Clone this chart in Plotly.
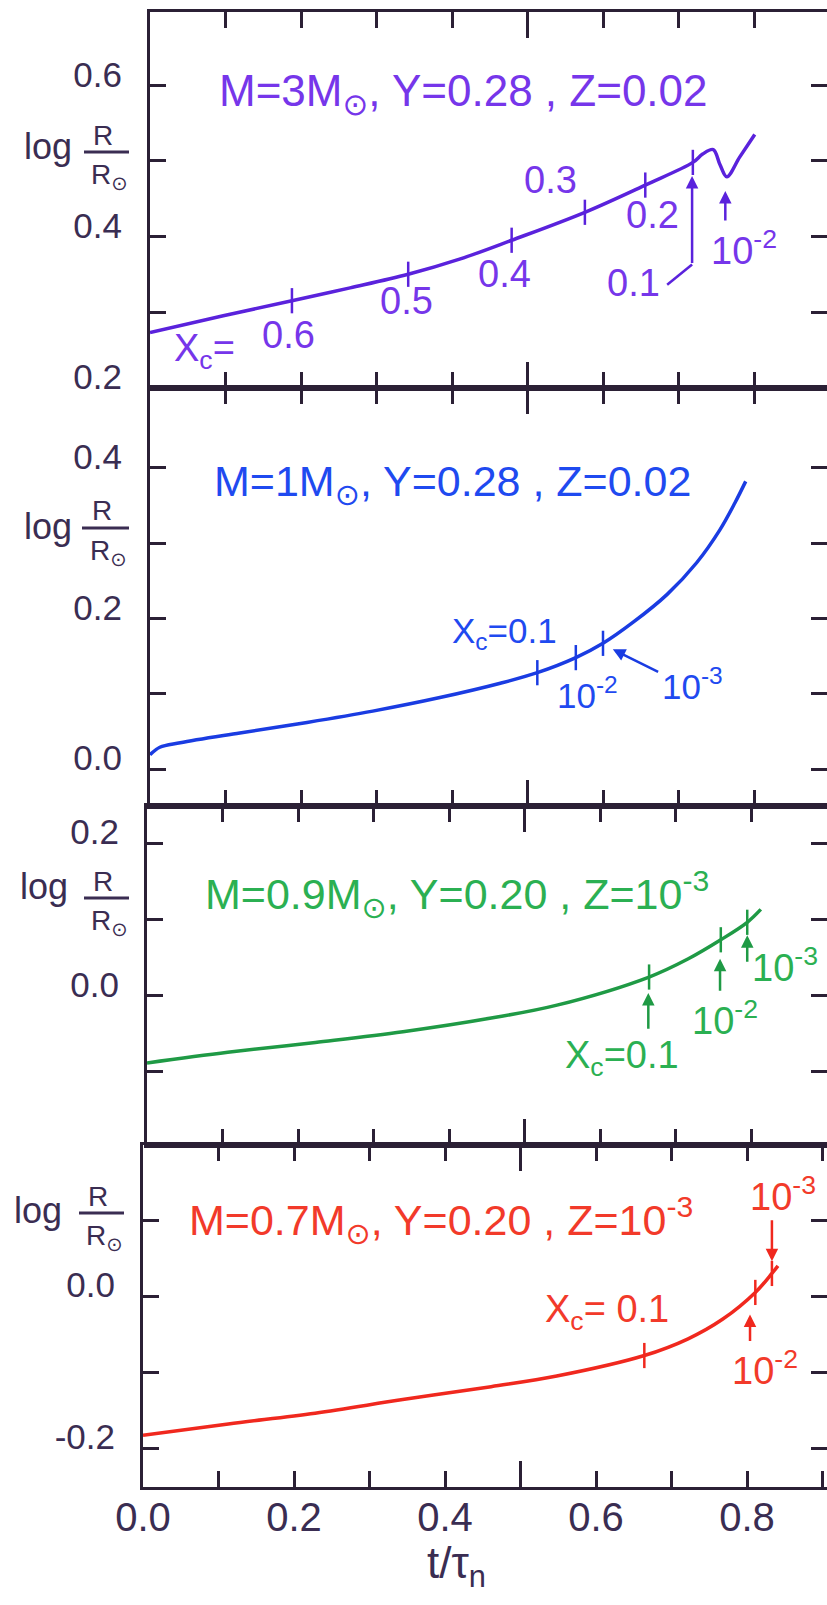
import plotly.graph_objects as go

W, H = 827, 1605
PX_PER_UNIT = 755.0

# ---------------- data ----------------
x_tick_vals = [0.0, 0.2, 0.4, 0.6, 0.8]
x_tick_labels = ["0.0", "0.2", "0.4", "0.6", "0.8"]

# Panel 1 : M = 3 Msun, Y = 0.28, Z = 0.02
p1_t = [0.0, 0.097, 0.188, 0.265, 0.342, 0.41, 0.479, 0.576, 0.656, 0.719, 0.732, 0.746, 0.755, 0.764, 0.781, 0.801]
p1_logR = [0.273, 0.295, 0.315, 0.332, 0.350, 0.370, 0.395, 0.432, 0.468, 0.498, 0.509, 0.515, 0.495, 0.479, 0.505, 0.535]
p1_mark_t = [0.188, 0.342, 0.479, 0.576, 0.656, 0.719]
p1_mark_logR = [0.315, 0.350, 0.395, 0.432, 0.468, 0.498]
p1_yticks = [0.2, 0.3, 0.4, 0.5, 0.6]
p1_ylabels = ["0.2", "", "0.4", "", "0.6"]

# Panel 2 : M = 1 Msun, Y = 0.28, Z = 0.02
p2_t = [0.0, 0.013, 0.04, 0.119, 0.208, 0.295, 0.384, 0.464, 0.513, 0.564, 0.600, 0.640, 0.685, 0.724, 0.755, 0.775, 0.789]
p2_logR = [0.019, 0.029, 0.035, 0.048, 0.062, 0.077, 0.095, 0.114, 0.128, 0.148, 0.167, 0.195, 0.232, 0.274, 0.318, 0.354, 0.382]
p2_mark_t = [0.513, 0.564, 0.600]
p2_mark_logR = [0.128, 0.148, 0.167]
p2_yticks = [0.0, 0.1, 0.2, 0.3, 0.4]
p2_ylabels = ["0.0", "", "0.2", "", "0.4"]

# Panel 3 : M = 0.9 Msun, Y = 0.20, Z = 1e-3
p3_t = [0.0, 0.107, 0.223, 0.339, 0.456, 0.543, 0.665, 0.717, 0.760, 0.795, 0.813]
p3_logR = [-0.089, -0.075, -0.062, -0.048, -0.030, -0.013, 0.024, 0.048, 0.073, 0.096, 0.113]
p3_mark_t = [0.665, 0.760, 0.795]
p3_mark_logR = [0.024, 0.073, 0.096]
p3_yticks = [-0.2, -0.1, 0.0, 0.1, 0.2]
p3_ylabels = ["-0.2", "", "0.0", "", "0.2"]

# Panel 4 : M = 0.7 Msun, Y = 0.20, Z = 1e-3
p4_t = [0.0, 0.113, 0.228, 0.344, 0.461, 0.548, 0.664, 0.722, 0.768, 0.811, 0.833, 0.841]
p4_logR = [-0.183, -0.168, -0.154, -0.136, -0.119, -0.105, -0.078, -0.056, -0.030, 0.005, 0.030, 0.040]
p4_mark_t = [0.664, 0.811, 0.833]
p4_mark_logR = [-0.078, 0.005, 0.030]
p4_yticks = [-0.2, -0.1, 0.0, 0.1]
p4_ylabels = ["-0.2", "", "0.0", ""]

FONT = "Liberation Sans, Arial, DejaVu Sans, sans-serif"
AX = "#2b2035"
TXT = "#3a2d52"

panels = [
    dict(x0=150, dom=(12, 388), yr=[0.1995, 0.697], t=p1_t, r=p1_logR, mt=p1_mark_t, mr=p1_mark_logR,
         yt=p1_yticks, yl=p1_ylabels, color="#5a22dc", tcolor="#7636ea",
         title=("M=3M<sub>⊙</sub>, Y=0.28 , Z=0.02", 0.415, 0.588, 44),
         lsize=38,
         labels=[("X<sub>c</sub>=", 0.072, 0.249), ("0.6", 0.183, 0.270), ("0.5", 0.340, 0.315),
                 ("0.4", 0.470, 0.350), ("0.3", 0.530, 0.475), ("0.2", 0.666, 0.428),
                 ("0.1", 0.640, 0.339), ("10<sup>-2</sup>", 0.787, 0.385)],
         arrows=[(0.718, 0.363, 0.718, 0.480), (0.762, 0.419, 0.762, 0.460)],
         segs=[(0.685, 0.336, 0.718, 0.363)],
         ylab=(48, 147, 84, 129, 152)),
    dict(x0=150, dom=(388, 806), yr=[-0.049, 0.506], t=p2_t, r=p2_logR, mt=p2_mark_t, mr=p2_mark_logR,
         yt=p2_yticks, yl=p2_ylabels, color="#1a3ce2", tcolor="#1f4af0",
         title=("M=1M<sub>⊙</sub>, Y=0.28 , Z=0.02", 0.401, 0.378, 43),
         lsize=35,
         labels=[("X<sub>c</sub>=0.1", 0.470, 0.181), ("10<sup>-2</sup>", 0.580, 0.101),
                 ("10<sup>-3</sup>", 0.719, 0.113)],
         arrows=[(0.675, 0.128, 0.613, 0.159)],
         segs=[],
         ylab=(48, 526, 82, 129, 528)),
    dict(x0=147, dom=(806, 1145), yr=[-0.197, 0.249], t=p3_t, r=p3_logR, mt=p3_mark_t, mr=p3_mark_logR,
         yt=p3_yticks, yl=p3_ylabels, color="#1f9a45", tcolor="#2bb052",
         title=("M=0.9M<sub>⊙</sub>, Y=0.20 , Z=10<sup>-3</sup>", 0.41, 0.133, 43),
         lsize=38,
         labels=[("X<sub>c</sub>=0.1", 0.629, -0.082), ("10<sup>-2</sup>", 0.765, -0.030),
                 ("10<sup>-3</sup>", 0.845, 0.040)],
         arrows=[(0.664, -0.046, 0.664, 0.003), (0.759, 0.004, 0.759, 0.048), (0.795, 0.042, 0.795, 0.079)],
         segs=[],
         ylab=(44, 886, 84, 129, 898)),
    dict(x0=143, dom=(1145, 1487), yr=[-0.251, 0.199], t=p4_t, r=p4_logR, mt=p4_mark_t, mr=p4_mark_logR,
         yt=p4_yticks, yl=p4_ylabels, color="#f0281e", tcolor="#f23a2a",
         title=("M=0.7M<sub>⊙</sub>, Y=0.20 , Z=10<sup>-3</sup>", 0.395, 0.100, 43),
         lsize=38,
         labels=[("X<sub>c</sub>= 0.1", 0.615, -0.021), ("10<sup>-3</sup>", 0.848, 0.134),
                 ("10<sup>-2</sup>", 0.824, -0.094)],
         arrows=[(0.833, 0.102, 0.833, 0.046), (0.804, -0.061, 0.804, -0.024)],
         segs=[],
         ylab=(38, 1210, 79, 124, 1213)),
]

fig = go.Figure()
annotations = []
shapes = []
layout = dict(width=W, height=H, margin=dict(l=0, r=0, t=0, b=0, autoexpand=False),
              paper_bgcolor="white", plot_bgcolor="white", showlegend=False,
              font=dict(family=FONT, color=TXT))

for i, p in enumerate(panels, start=1):
    xn = "x" if i == 1 else f"x{i}"
    yn = "y" if i == 1 else f"y{i}"
    yrn = f"y{4 + i}"
    xk = "xaxis" if i == 1 else f"xaxis{i}"
    yk = "yaxis" if i == 1 else f"yaxis{i}"
    dom = [1 - p["dom"][1] / H, 1 - p["dom"][0] / H]
    xr = [0.0, (W - p["x0"]) / PX_PER_UNIT]
    p["xr"] = xr

    layout[xk] = dict(domain=[p["x0"] / W, 1], anchor=yn, range=xr, showline=True, linewidth=3,
                      linecolor=AX, mirror="ticks", ticks="inside", tickvals=[0.5], ticklen=26,
                      tickwidth=2.5, tickcolor=AX, showticklabels=False, showgrid=False,
                      zeroline=False, fixedrange=True, automargin=False,
                      minor=dict(dtick=0.1, tick0=0, ticks="inside", ticklen=16, tickwidth=2.5,
                                 tickcolor=AX, showgrid=False))
    layout[yk] = dict(domain=dom, anchor=xn, range=p["yr"], showline=True, linewidth=3,
                      linecolor=AX, mirror=False, ticks="inside", tickvals=p["yt"],
                      ticktext=p["yl"], ticklen=16, tickwidth=2.5, tickcolor=AX,
                      showgrid=False, zeroline=False, ticklabelshift=-11, ticklabelstandoff=18,
                      tickfont=dict(size=35, color=TXT, family=FONT), fixedrange=True,
                      automargin=False)
    layout[f"yaxis{4 + i}"] = dict(overlaying=yn, anchor=xn, side="right", range=p["yr"],
                                   tickvals=p["yt"], ticks="inside", ticklen=16, tickwidth=2.5,
                                   tickcolor=AX, showline=False, showticklabels=False,
                                   showgrid=False, zeroline=False, fixedrange=True,
                                   automargin=False)

    fig.add_trace(go.Scatter(x=p["t"], y=p["r"], mode="lines", xaxis=xn, yaxis=yn,
                             line=dict(color=p["color"], width=3.5, shape="spline", smoothing=1.0),
                             hoverinfo="skip"))
    fig.add_trace(go.Scatter(x=p["mt"], y=p["mr"], mode="markers", xaxis=xn, yaxis=yn,
                             marker=dict(symbol="line-ns", size=18,
                                         line=dict(width=2.5, color=p["color"])),
                             hoverinfo="skip"))
    fig.add_trace(go.Scatter(x=[], y=[], xaxis=xn, yaxis=yrn, hoverinfo="skip"))

    tt, tx, ty, ts = p["title"]
    annotations.append(dict(text=tt, x=tx, y=ty, xref=xn, yref=yn, showarrow=False,
                            xanchor="center", yanchor="middle",
                            font=dict(size=ts, color=p["tcolor"], family=FONT)))
    for (lt, lx, ly) in p["labels"]:
        annotations.append(dict(text=lt, x=lx, y=ly, xref=xn, yref=yn, showarrow=False,
                                xanchor="center", yanchor="middle",
                                font=dict(size=p["lsize"], color=p["tcolor"], family=FONT)))
    for (ax_, ay_, hx, hy) in p["arrows"]:
        annotations.append(dict(text="", x=hx, y=hy, ax=ax_, ay=ay_, xref=xn, yref=yn,
                                axref=xn, ayref=yn, showarrow=True, arrowhead=2, arrowsize=1,
                                arrowwidth=2.5, arrowcolor=p["color"], standoff=0))
    for (x1, y1, x2, y2) in p["segs"]:
        shapes.append(dict(type="line", xref=xn, yref=yn, x0=x1, y0=y1, x1=x2, y1=y2,
                           line=dict(color=p["color"], width=2.5)))

    # y-axis label: log R / R_sun
    lx, ly, bx0, bx1, by = p["ylab"]
    annotations.append(dict(text="log", x=lx / W, y=1 - ly / H, xref="paper", yref="paper",
                            xanchor="center", yanchor="middle", showarrow=False,
                            font=dict(size=36, color=TXT, family=FONT)))
    annotations.append(dict(text="R", x=((bx0 + bx1) / 2 - 4) / W, y=1 - (by - 17) / H,
                            xref="paper", yref="paper", xanchor="center", yanchor="middle",
                            showarrow=False, font=dict(size=28, color=TXT, family=FONT)))
    annotations.append(dict(text="R<sub>⊙</sub>", x=((bx0 + bx1) / 2 + 3) / W, y=1 - (by + 24) / H,
                            xref="paper", yref="paper", xanchor="center", yanchor="middle",
                            showarrow=False, font=dict(size=28, color=TXT, family=FONT)))
    shapes.append(dict(type="line", xref="paper", yref="paper", x0=bx0 / W, x1=bx1 / W,
                       y0=1 - by / H, y1=1 - by / H, line=dict(color=TXT, width=3)))

# labels of the bottom axis
layout["xaxis5"] = dict(overlaying="x4", anchor="y4", side="bottom", range=panels[3]["xr"],
                        tickvals=x_tick_vals, ticktext=x_tick_labels, ticks="",
                        showline=False, showgrid=False, zeroline=False, ticklabelstandoff=3,
                        tickfont=dict(size=40, color=TXT, family=FONT), fixedrange=True,
                        automargin=False)
fig.add_trace(go.Scatter(x=[], y=[], xaxis="x5", yaxis="y4", hoverinfo="skip"))

annotations.append(dict(text="t/τ<sub>n</sub>", x=456 / W, y=1 - 1566 / H, xref="paper",
                        yref="paper", xanchor="center", yanchor="middle", showarrow=False,
                        font=dict(size=44, color=TXT, family=FONT)))

layout["annotations"] = annotations
layout["shapes"] = shapes
fig.update_layout(**layout)
fig.write_html("out.html")
